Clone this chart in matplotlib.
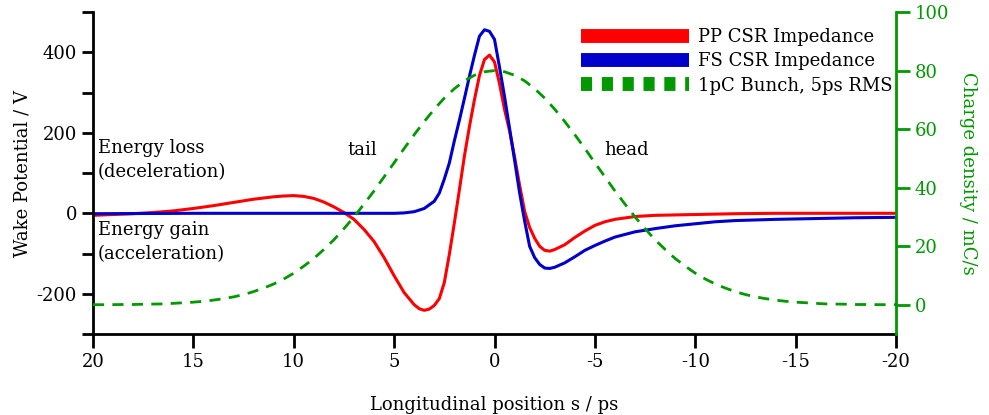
import matplotlib
matplotlib.use("Agg")
import matplotlib.pyplot as plt
from matplotlib.lines import Line2D
from matplotlib.ticker import FixedLocator

plt.rcParams["font.family"] = ["DejaVu Serif"]
plt.rcParams["font.size"] = 13
plt.rcParams["axes.unicode_minus"] = False

# PP CSR impedance wake
pp_s = [20, 19, 18, 17, 16, 15, 14, 13, 12, 11, 10.5, 10, 9.5, 9, 8.5, 8, 7.5, 7,
        6.5, 6, 5.5, 5, 4.5, 4, 3.75, 3.5, 3.25, 3, 2.75, 2.5, 2.25, 2, 1.75, 1.5,
        1.25, 1, 0.75, 0.5, 0.25, 0, -0.25, -0.5, -0.75, -1, -1.25, -1.5, -1.75,
        -2, -2.25, -2.5, -2.75, -3, -3.5, -4, -4.5, -5, -5.5, -6, -7, -8, -9, -10,
        -11, -12, -14, -16, -18, -20]
pp_v = [-5, -3, -1, 2, 6, 12, 19, 27, 35, 41, 43, 44, 42, 37, 28, 16, 2, -15,
        -40, -70, -110, -155, -197, -227, -237, -241, -238, -229, -212, -172, -102, -24, 58, 142,
        215, 282, 342, 382, 393, 376, 322, 258, 205, 140, 70, 5, -35,
        -62, -82, -92, -94, -90, -78, -60, -44, -30, -21, -15, -8, -5, -4, -3,
        -2, -1, 0, 0, 0, 0]

# FS CSR impedance wake
fs_s = [20, 15, 10, 6, 5, 4.5, 4, 3.5, 3, 2.75, 2.5, 2.25, 2, 1.75, 1.5, 1.25, 1,
        0.75, 0.5, 0.25, 0, -0.25, -0.5, -0.75, -1, -1.25, -1.5, -1.75, -2, -2.25,
        -2.5, -2.75, -3, -3.5, -4, -4.5, -5, -5.5, -6, -7, -8, -9, -10, -11, -12,
        -14, -16, -18, -20]
fs_v = [-1, 0, 0, 0, 0, 1, 4, 12, 30, 50, 85, 125, 180, 231, 285, 340, 392,
        440, 456, 452, 432, 363, 290, 211, 132, 51, -19, -82, -110, -127,
        -136, -137, -134, -123, -108, -92, -80, -69, -59, -46, -38, -31, -26, -21, -18,
        -15, -13, -11, -10]

# 1pC bunch, 5ps RMS charge density (mC/s)
bunch_s = [20, 19.5, 19, 18.5, 18, 17.5, 17, 16.5, 16, 15.5, 15, 14.5, 14, 13.5, 13,
           12.5, 12, 11.5, 11, 10.5, 10, 9.5, 9, 8.5, 8, 7.5, 7, 6.5, 6, 5.5, 5,
           4.5, 4, 3.5, 3, 2.5, 2, 1.5, 1, 0.5, 0, -0.5, -1, -1.5, -2, -2.5, -3,
           -3.5, -4, -4.5, -5, -5.5, -6, -6.5, -7, -7.5, -8, -8.5, -9, -9.5, -10,
           -10.5, -11, -11.5, -12, -12.5, -13, -13.5, -14, -14.5, -15, -15.5, -16,
           -16.5, -17, -17.5, -18, -18.5, -19, -19.5, -20]
bunch_q = [0.03, 0.04, 0.06, 0.1, 0.1, 0.2, 0.25, 0.3, 0.5, 0.7, 0.9, 1.2, 1.6, 2.1, 2.7,
           3.5, 4.5, 5.7, 7.1, 8.8, 10.8, 13.2, 15.8, 18.9, 22.2, 26.0, 30.0, 34.4, 38.9, 43.7, 48.5,
           53.4, 58.1, 62.6, 66.8, 70.6, 73.8, 76.5, 78.4, 79.6, 80.0, 79.6, 78.4, 76.5, 73.8, 70.6, 66.8,
           62.6, 58.1, 53.4, 48.5, 43.7, 38.9, 34.4, 30.0, 26.0, 22.2, 18.9, 15.8, 13.2, 10.8,
           8.8, 7.1, 5.7, 4.5, 3.5, 2.7, 2.1, 1.6, 1.2, 0.9, 0.7, 0.5,
           0.3, 0.25, 0.2, 0.1, 0.1, 0.06, 0.04, 0.03]

red = "#ff0000"
blue = "#0000cc"
green = "#009900"

fig = plt.figure(figsize=(9.89, 4.15), dpi=100)
ax = fig.add_axes([0.094, 0.195, 0.812, 0.776])
ax2 = ax.twinx()

ax.plot(pp_s, pp_v, color=red, lw=2.2)
ax.plot(fs_s, fs_v, color=blue, lw=2.2)
ax2.plot(bunch_s, bunch_q, color=green, lw=2, dashes=(4, 3))

ax.set_xlim(20, -20)
ax.set_ylim(-300, 500)
ax2.set_ylim(-10, 100)

ax.set_xticks(range(20, -21, -5))
ax.set_xticklabels([str(v) for v in range(20, -21, -5)])
ax.set_yticks([-200, 0, 200, 400])
ax.yaxis.set_minor_locator(FixedLocator([-300, -100, 100, 300, 500]))
ax2.set_yticks(range(0, 101, 20))

for a in (ax, ax2):
    a.spines["top"].set_visible(False)
    for sp in a.spines.values():
        sp.set_linewidth(2)
ax.spines["right"].set_visible(False)
ax2.spines["left"].set_visible(False)
ax2.spines["bottom"].set_visible(False)
ax2.spines["right"].set_color(green)

ax.tick_params(axis="both", which="both", direction="out", width=2, length=8)
ax.tick_params(axis="x", length=10)
ax2.tick_params(axis="y", colors=green, direction="out", width=2, length=10)

ax.set_xlabel("Longitudinal position s / ps", labelpad=18)
ax.set_ylabel("Wake Potential / V")
ax2.set_ylabel("Charge density / mC/s", color=green, rotation=270, labelpad=20)

ax.text(19.75, 132, "Energy loss\n(deceleration)", ha="left", va="center", linespacing=1.4)
ax.text(19.75, -72, "Energy gain\n(acceleration)", ha="left", va="center", linespacing=1.4)
ax.text(6.6, 157, "tail", ha="center", va="center")
ax.text(-6.6, 157, "head", ha="center", va="center")

handles = [Line2D([], [], color=red, lw=10, solid_capstyle="butt"),
           Line2D([], [], color=blue, lw=10, solid_capstyle="butt"),
           Line2D([], [], color=green, lw=10, dashes=(0.8, 0.7), dash_capstyle="butt")]
labels = ["PP CSR Impedance", "FS CSR Impedance", "1pC Bunch, 5ps RMS"]
ax2.legend(handles, labels, loc="upper right", bbox_to_anchor=(1.012, 0.99),
           frameon=False, handlelength=6, handletextpad=0.5, labelspacing=0.35,
           borderaxespad=0.3)

fig.savefig("out.png", dpi=100)
